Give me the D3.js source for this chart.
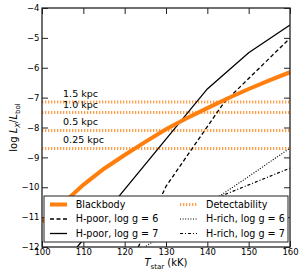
<!DOCTYPE html>
<html>
<head>
<meta charset="utf-8">
<script src="https://cdn.jsdelivr.net/npm/d3@7"></script>
<style>
  body { margin: 0; background: #fff; }
  svg text { font-family: "DejaVu Sans", sans-serif; }
</style>
</head>
<body>
<div id="chart"></div>
<script>
// temperatures (kK) and log Lx/Lbol for each model
var bbTemp = [100, 105, 110, 115, 120, 125, 130, 135, 140, 145, 150, 155, 160];
var bbLog = [-11.15, -10.55, -9.92, -9.38, -8.92, -8.48, -8.06, -7.69, -7.35, -7.02, -6.71, -6.42, -6.15];

var hpoor6Temp = [120, 130, 140, 144, 150, 160];
var hpoor6Log = [-13.0, -9.97, -7.97, -7.17, -6.36, -5.01];

var hpoor7Temp = [100, 110, 120, 130, 140, 150, 160];
var hpoor7Log = [-13.43, -11.75, -10.07, -8.39, -6.71, -5.5, -4.57];

var hrich6Temp = [120, 130, 140, 150, 160];
var hrich6Log = [-12.47, -11.52, -10.57, -9.64, -8.69];

var hrich7Temp = [130, 140, 150, 160];
var hrich7Log = [-11.05, -10.48, -9.92, -9.36];

// detectability limits for the distances
var distLabels = ["1.5 kpc", "1.0 kpc", "0.5 kpc", "0.25 kpc"];
var distLimits = [-7.15, -7.5, -8.1, -8.7];

var xTicks = [100, 110, 120, 130, 140, 150, 160];
var yTicks = [-4, -5, -6, -7, -8, -9, -10, -11, -12];

var legendCol1 = ["Blackbody", "H-poor, log g = 6", "H-poor, log g = 7"];
var legendCol2 = ["Detectability", "H-rich, log g = 6", "H-rich, log g = 7"];

function init() {
    var W = 300, H = 275;
    var margin = { top: 8, right: 10, bottom: 28, left: 42 };
    var w = W - margin.left - margin.right;
    var h = H - margin.top - margin.bottom;
    var orange = "#ff7f0e";

    var svg = d3.select("#chart").append("svg")
        .attr("width", W).attr("height", H);

    var g = svg.append("g")
        .attr("transform", "translate(" + margin.left + "," + margin.top + ")");

    var xScale = d3.scaleLinear().domain([100, 160]).range([0, w]);
    var yScale = d3.scaleLinear().domain([-12, -4]).range([h, 0]);

    svg.append("defs").append("clipPath").attr("id", "clip")
        .append("rect").attr("width", w).attr("height", h);

    var plot = g.append("g").attr("clip-path", "url(#clip)");

    var line = d3.line()
        .x(function(d) { return xScale(d[0]); })
        .y(function(d) { return yScale(d[1]); });

    function pairs(t, v) { return t.map(function(d, i) { return [d, v[i]]; }); }

    // detectability limits
    plot.selectAll(".limit")
        .data(distLimits)
        .enter().append("line")
        .attr("x1", 0).attr("x2", w)
        .attr("y1", function(d) { return yScale(d); })
        .attr("y2", function(d) { return yScale(d); })
        .attr("stroke", orange)
        .attr("stroke-opacity", 0.75)
        .attr("stroke-width", 3)
        .attr("stroke-dasharray", "1.3,1.7");

    plot.selectAll(".dlabel")
        .data(distLabels)
        .enter().append("text")
        .attr("x", xScale(105.1))
        .attr("y", function(d, i) { return yScale(distLimits[i]) - 5; })
        .attr("font-size", "9.5px")
        .text(function(d) { return d; });

    var series = [
        { data: pairs(hrich6Temp, hrich6Log), color: "#000", width: 1.2, dash: "1,1.6" },
        { data: pairs(hrich7Temp, hrich7Log), color: "#000", width: 1.2, dash: "3,2,1,2" },
        { data: pairs(hpoor6Temp, hpoor6Log), color: "#000", width: 1.3, dash: "4,2.5" },
        { data: pairs(hpoor7Temp, hpoor7Log), color: "#000", width: 1.3, dash: null },
        { data: pairs(bbTemp, bbLog), color: orange, width: 4, dash: null }
    ];

    plot.selectAll(".curve")
        .data(series)
        .enter().append("path")
        .attr("d", function(d) { return line(d.data); })
        .attr("fill", "none")
        .attr("stroke", function(d) { return d.color; })
        .attr("stroke-width", function(d) { return d.width; })
        .attr("stroke-dasharray", function(d) { return d.dash; });

    // axes with inward ticks on all sides
    var axisColor = "#222";
    var xAxis = g.append("g").attr("transform", "translate(0," + h + ")")
        .call(d3.axisBottom(xScale).tickValues(xTicks).tickSizeInner(-6).tickSizeOuter(0).tickPadding(2));
    var yAxis = g.append("g")
        .call(d3.axisLeft(yScale).tickValues(yTicks).tickSizeInner(-6).tickSizeOuter(0).tickPadding(2.5));
    g.append("g")
        .call(d3.axisTop(xScale).tickValues(xTicks).tickSizeInner(-6).tickSizeOuter(0).tickFormat(""));
    g.append("g").attr("transform", "translate(" + w + ",0)")
        .call(d3.axisRight(yScale).tickValues(yTicks).tickSizeInner(-6).tickSizeOuter(0).tickFormat(""));

    g.selectAll(".domain").remove();
    g.selectAll(".tick line").attr("stroke", axisColor).attr("stroke-width", 1);
    g.selectAll(".tick text").attr("font-size", "8.5px").attr("fill", "#000")
        .attr("font-family", "DejaVu Sans");

    // legend
    var lg = g.append("g");
    lg.append("rect")
        .attr("x", 2).attr("y", 188)
        .attr("width", w - 4).attr("height", 46)
        .attr("fill", "#fff")
        .attr("stroke", "#222").attr("stroke-width", 1);

    var handles1 = [series[4], series[2], series[3]];
    var handles2 = [{ color: orange, width: 3, dash: "1.3,1.7", opacity: 0.75 }, series[0], series[1]];
    var rowY = [196.5, 211, 225.5];

    function legendColumn(labels, handles, hx, tx) {
        lg.selectAll(null)
            .data(labels)
            .enter().append("line")
            .attr("x1", hx).attr("x2", hx + 17)
            .attr("y1", function(d, i) { return rowY[i]; })
            .attr("y2", function(d, i) { return rowY[i]; })
            .attr("stroke", function(d, i) { return handles[i].color; })
            .attr("stroke-width", function(d, i) { return handles[i].width; })
            .attr("stroke-opacity", function(d, i) { return handles[i].opacity || 1; })
            .attr("stroke-dasharray", function(d, i) { return handles[i].dash; });
        lg.selectAll(null)
            .data(labels)
            .enter().append("text")
            .attr("x", tx)
            .attr("y", function(d, i) { return rowY[i]; })
            .attr("dy", "0.36em")
            .attr("font-size", "9.6px")
            .text(function(d) { return d; });
    }
    legendColumn(legendCol1, handles1, 8, 33.7);
    legendColumn(legendCol2, handles2, 138, 164);

    // frame
    g.append("rect")
        .attr("width", w).attr("height", h)
        .attr("fill", "none")
        .attr("stroke", axisColor).attr("stroke-width", 1.3);

    // axis labels
    var xl = svg.append("text")
        .attr("x", margin.left + w / 2).attr("y", 266)
        .attr("text-anchor", "middle").attr("font-size", "10px");
    xl.append("tspan").attr("font-style", "italic").text("T");
    xl.append("tspan").attr("font-size", "7px").attr("dy", 2.5).text("star");
    xl.append("tspan").attr("dy", -2.5).text(" (kK)");

    var yl = svg.append("text")
        .attr("transform", "translate(17," + (margin.top + h / 2) + ") rotate(-90)")
        .attr("text-anchor", "middle").attr("font-size", "10px");
    yl.append("tspan").text("log ");
    yl.append("tspan").attr("font-style", "italic").text("L");
    yl.append("tspan").attr("font-style", "italic").attr("font-size", "7px").attr("dy", 2.5).text("X");
    yl.append("tspan").attr("dy", -2.5).text("/");
    yl.append("tspan").attr("font-style", "italic").text("L");
    yl.append("tspan").attr("font-size", "7px").attr("dy", 2.5).text("bol");
}

window.onload = init;
</script>
</body>
</html>
